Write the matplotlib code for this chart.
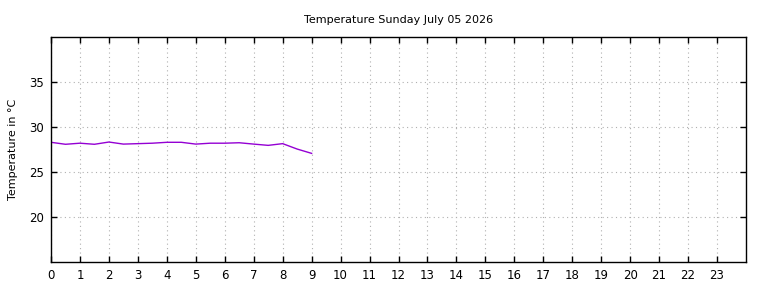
import matplotlib
matplotlib.use("Agg")
from matplotlib import pyplot as plt

hours = [0, 0.5, 1, 1.5, 2, 2.5, 3, 3.5, 4, 4.5, 5, 5.5, 6, 6.5, 7, 7.5, 8, 8.5, 9]
temps = [28.3, 28.08, 28.2, 28.08, 28.33, 28.1, 28.15, 28.2, 28.3, 28.3,
         28.1, 28.2, 28.2, 28.25, 28.1, 27.96, 28.15, 27.55, 27.07]
xticks = list(range(0, 24))
yticks = [20, 25, 30, 35]

fig = plt.figure(figsize=(7.68, 2.88), dpi=100)
ax = fig.add_axes([51 / 768, 26 / 288, 695 / 768, 225 / 288])

ax.plot(hours, temps, color="#9400d3", linewidth=1)

ax.set_xlim(0, 24)
ax.set_ylim(15, 40)
ax.set_xticks(xticks)
ax.set_yticks(yticks)
ax.tick_params(direction="in", top=True, right=True, length=4, width=1,
               labelsize=8.5, pad=5)
ax.grid(True, color="#b0b0b0", linestyle=(0, (1, 3)), linewidth=0.8)
for s in ax.spines.values():
    s.set_linewidth(1)

ax.set_title("Temperature Sunday July 05 2026", fontsize=8, pad=10)
ax.set_ylabel("Temperature in °C", fontsize=8, labelpad=8)

fig.savefig("out.png", dpi=100)
